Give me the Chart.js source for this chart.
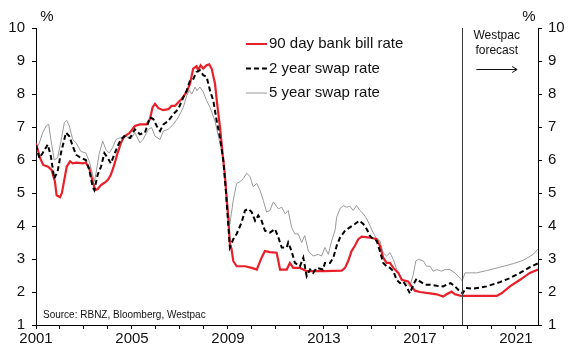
<!DOCTYPE html>
<html>
<head>
<meta charset="utf-8">
<script src="https://cdn.jsdelivr.net/npm/chart.js@4.4.1/dist/chart.umd.min.js"></script>
<style>
  html, body { margin: 0; padding: 0; background: #fff; }
  #wrap { width: 568px; height: 345px; position: relative; }
</style>
</head>
<body>
<div id="wrap"><canvas id="c" width="568" height="345"></canvas></div>
<script>
// ---- Data ----
const billDates = [2001.00,2001.17,2001.30,2001.50,2001.65,2001.79,2001.86,2002.00,2002.08,2002.28,2002.42,2002.53,2002.67,2002.94,2003.08,2003.22,2003.36,2003.47,2003.57,2003.71,2003.85,2003.99,2004.12,2004.26,2004.40,2004.54,2004.68,2004.89,2005.12,2005.33,2005.61,2005.75,2005.86,2005.96,2006.10,2006.30,2006.51,2006.65,2006.79,2006.93,2007.07,2007.28,2007.42,2007.55,2007.69,2007.76,2007.86,2007.97,2008.11,2008.22,2008.32,2008.46,2008.55,2008.67,2008.78,2008.87,2008.95,2009.01,2009.08,2009.15,2009.22,2009.36,2009.71,2009.99,2010.20,2010.40,2010.54,2010.75,2011.03,2011.17,2011.45,2011.58,2011.72,2012.00,2012.28,2013.00,2013.74,2013.88,2014.01,2014.15,2014.29,2014.43,2014.57,2014.92,2015.20,2015.33,2015.47,2015.61,2015.75,2015.89,2016.10,2016.24,2016.51,2016.65,2016.79,2017.00,2017.42,2017.70,2017.97,2018.11,2018.32,2018.46,2018.67,2018.80,2019.50,2020.20,2020.40,2020.75,2021.17,2021.58,2021.92];
const billRates = [6.5,6.06,5.85,5.8,5.7,5.34,4.93,4.87,5.0,5.8,5.96,5.9,5.92,5.9,5.92,5.75,5.34,5.09,5.12,5.24,5.31,5.39,5.55,5.85,6.21,6.52,6.72,6.81,7.03,7.08,7.08,7.24,7.6,7.7,7.57,7.51,7.54,7.64,7.64,7.75,7.85,8.06,8.31,8.77,8.84,8.72,8.87,8.77,8.87,8.9,8.77,8.31,7.7,6.98,6.16,5.55,4.78,4.27,3.45,3.3,2.94,2.78,2.78,2.73,2.68,3.04,3.24,3.21,3.19,2.68,2.68,2.88,2.73,2.73,2.63,2.63,2.65,2.73,2.94,3.24,3.4,3.6,3.68,3.65,3.6,3.4,3.04,2.88,2.88,2.73,2.58,2.37,2.32,2.17,2.04,2.0,1.96,1.93,1.86,1.93,2.01,1.93,1.89,1.88,1.88,1.88,1.96,2.17,2.37,2.58,2.68];

const swap2Dates = [2001.00,2001.14,2001.28,2001.49,2001.62,2001.76,2001.90,2002.04,2002.25,2002.39,2002.53,2002.67,2002.87,2003.08,2003.22,2003.36,2003.43,2003.57,2003.71,2003.85,2003.99,2004.12,2004.26,2004.40,2004.54,2004.68,2004.92,2005.12,2005.33,2005.54,2005.75,2005.89,2006.03,2006.17,2006.31,2006.51,2006.72,2006.93,2007.14,2007.28,2007.42,2007.56,2007.69,2007.83,2007.97,2008.11,2008.25,2008.39,2008.53,2008.67,2008.81,2008.92,2009.01,2009.08,2009.22,2009.36,2009.57,2009.71,2009.85,2009.99,2010.13,2010.26,2010.40,2010.54,2010.75,2010.96,2011.10,2011.24,2011.45,2011.51,2011.65,2011.79,2012.00,2012.14,2012.28,2012.42,2012.55,2012.69,2012.96,2013.04,2013.25,2013.39,2013.53,2013.67,2013.88,2014.08,2014.29,2014.47,2014.64,2014.78,2014.92,2015.05,2015.20,2015.33,2015.47,2015.61,2015.75,2015.89,2016.03,2016.17,2016.30,2016.44,2016.58,2016.72,2016.86,2017.00,2017.21,2017.42,2017.70,2017.97,2018.11,2018.28,2018.46,2018.67,2018.78,2018.92,2019.22,2019.78,2020.33,2020.75,2021.17,2021.58,2021.92];
const swap2Rates = [6.45,6.06,6.21,6.47,6.11,5.44,5.65,6.21,6.83,6.72,6.42,6.16,6.06,6.0,5.7,5.19,5.09,5.55,5.8,6.21,6.06,5.9,6.16,6.42,6.62,6.72,6.67,6.93,6.78,6.83,7.29,7.24,7.03,6.88,7.08,7.18,7.39,7.54,7.9,8.11,8.41,8.46,8.67,8.72,8.57,8.52,8.11,7.8,7.18,6.67,5.96,5.0,4.06,3.35,3.6,3.76,4.11,4.47,4.52,4.42,4.16,4.32,4.16,3.86,3.8,3.91,3.65,3.35,3.35,3.5,3.24,2.88,2.78,3.04,2.48,2.68,2.58,2.73,2.68,2.88,2.88,3.04,3.4,3.65,3.86,3.96,4.06,4.16,4.06,3.91,3.7,3.6,3.55,3.24,2.88,2.78,2.73,2.63,2.37,2.27,2.32,2.17,1.96,2.22,2.4,2.32,2.22,2.22,2.19,2.17,2.22,2.27,2.17,2.01,1.96,2.12,2.1,2.17,2.3,2.42,2.58,2.75,2.87];

const swap5Dates = [2001.00,2001.14,2001.28,2001.42,2001.53,2001.62,2001.76,2001.90,2002.04,2002.18,2002.28,2002.39,2002.53,2002.67,2002.87,2003.08,2003.22,2003.36,2003.43,2003.50,2003.64,2003.78,2003.92,2004.05,2004.19,2004.33,2004.47,2004.61,2004.75,2004.96,2005.12,2005.33,2005.46,2005.68,2005.82,2005.96,2006.17,2006.31,2006.51,2006.72,2006.93,2007.14,2007.28,2007.39,2007.49,2007.63,2007.71,2007.83,2007.97,2008.11,2008.25,2008.46,2008.60,2008.74,2008.88,2009.01,2009.08,2009.22,2009.36,2009.50,2009.64,2009.78,2009.92,2010.05,2010.20,2010.33,2010.47,2010.61,2010.75,2010.89,2011.10,2011.24,2011.38,2011.51,2011.65,2011.79,2011.93,2012.07,2012.20,2012.35,2012.55,2012.76,2012.90,2013.04,2013.18,2013.32,2013.46,2013.53,2013.67,2013.80,2013.95,2014.08,2014.22,2014.36,2014.50,2014.64,2014.78,2014.92,2015.05,2015.20,2015.33,2015.47,2015.61,2015.75,2015.89,2016.03,2016.17,2016.30,2016.44,2016.58,2016.72,2016.83,2016.93,2017.14,2017.28,2017.42,2017.55,2017.70,2017.90,2018.04,2018.25,2018.46,2018.67,2018.76,2018.88,2019.36,2019.78,2020.33,2020.89,2021.30,2021.72,2021.92];
const swap5Rates = [6.3,6.52,6.83,7.03,7.08,6.62,6.0,6.06,6.57,7.13,7.2,7.03,6.62,6.52,6.26,6.21,5.96,5.55,5.34,5.6,6.21,6.57,6.31,6.21,6.37,6.62,6.67,6.67,6.72,6.64,6.83,6.52,6.62,6.93,6.98,6.72,6.62,6.88,6.93,7.08,7.29,7.6,7.95,8.11,8.0,8.21,8.1,8.21,8.06,7.8,7.6,7.18,6.72,6.26,5.6,4.47,4.06,4.78,5.29,5.34,5.44,5.6,5.5,5.19,5.29,5.09,4.78,4.42,4.47,4.73,4.52,4.57,4.37,4.47,3.96,3.76,3.76,3.5,3.71,3.24,3.09,3.14,3.09,3.35,3.14,3.55,3.86,4.27,4.52,4.62,4.57,4.6,4.47,4.62,4.47,4.37,4.22,4.01,3.8,3.6,3.55,3.19,3.09,3.19,2.99,2.68,2.48,2.37,2.27,2.17,2.53,2.94,2.99,2.94,2.78,2.78,2.63,2.68,2.63,2.68,2.68,2.58,2.42,2.34,2.58,2.58,2.65,2.75,2.86,2.96,3.14,3.3];

const seriesNames = ['90 day bank bill rate', '2 year swap rate', '5 year swap rate'];
const yTicks = [1,2,3,4,5,6,7,8,9,10];
const xTickYears = [2001,2002,2003,2004,2005,2006,2007,2008,2009,2010,2011,2012,2013,2014,2015,2016,2017,2018,2019,2020,2021];
const xLabelYears = [2001,2005,2009,2013,2017,2021];
const forecastStart = 2018.75;
const xMin = 2001, xMax = 2021.92;

const pts = (d, v) => d.map((x, i) => ({x: x, y: v[i]}));

const RED = '#e8202a', BLACK = '#000000', GREY = '#9a9a9a';
const FONT = '"Liberation Sans", Arial, sans-serif';

const overlay = {
  id: 'overlay',
  afterDatasetsDraw(chart) {
    const ctx = chart.ctx;
    const xs = chart.scales.x;
    const area = chart.chartArea;
    ctx.save();
    // forecast divider
    const fx = Math.round(xs.getPixelForValue(forecastStart)) + 0.5;
    ctx.strokeStyle = '#3a3a3a';
    ctx.lineWidth = 1;
    ctx.beginPath();
    ctx.moveTo(fx, area.top);
    ctx.lineTo(fx, area.bottom);
    ctx.stroke();

    // forecast text and arrow
    ctx.fillStyle = '#111';
    ctx.font = '12px ' + FONT;
    ctx.textAlign = 'center';
    ctx.textBaseline = 'middle';
    const tx = xs.getPixelForValue(2020.2);
    ctx.fillText('Westpac', tx, 36);
    ctx.fillText('forecast', tx, 51);
    const ay = 69.5;
    const ax1 = xs.getPixelForValue(2019.35), ax2 = xs.getPixelForValue(2021.05);
    ctx.strokeStyle = '#111';
    ctx.beginPath();
    ctx.moveTo(ax1, ay); ctx.lineTo(ax2, ay);
    ctx.moveTo(ax2 - 5, ay - 3); ctx.lineTo(ax2, ay); ctx.lineTo(ax2 - 5, ay + 3);
    ctx.stroke();

    // % unit labels
    ctx.font = '15px ' + FONT;
    ctx.fillStyle = '#111';
    ctx.textAlign = 'center';
    ctx.fillText('%', 47, 17);
    ctx.fillText('%', 529, 17);

    // legend
    const lx1 = 246, lx2 = 267, textX = 269;
    const rows = [44, 68.5, 93];
    const styles = [
      {c: RED, w: 2, dash: []},
      {c: BLACK, w: 2, dash: [5, 3]},
      {c: GREY, w: 1, dash: []}
    ];
    ctx.textAlign = 'left';
    rows.forEach((y, i) => {
      ctx.strokeStyle = styles[i].c;
      ctx.lineWidth = styles[i].w;
      ctx.setLineDash(styles[i].dash);
      ctx.beginPath();
      ctx.moveTo(lx1, y); ctx.lineTo(lx2, y);
      ctx.stroke();
      ctx.setLineDash([]);
      ctx.fillStyle = '#111';
      ctx.fillText(seriesNames[i], textX, y);
    });

    // source
    ctx.font = '10px ' + FONT;
    ctx.textAlign = 'left';
    ctx.fillText('Source: RBNZ, Bloomberg, Westpac', 43, 315);
    ctx.restore();
  }
};

const yAxisCommon = {
  type: 'linear', min: 1, max: 10,
  afterBuildTicks: (axis) => { axis.ticks = yTicks.map(v => ({value: v})); },
  grid: { drawOnChartArea: false, drawTicks: true, tickLength: 4, color: '#000', lineWidth: 1 },
  border: { display: true, color: '#000', width: 1 },
  ticks: { color: '#111', font: { family: FONT, size: 15 }, autoSkip: false }
};

new Chart(document.getElementById('c'), {
  type: 'line',
  data: {
    datasets: [
      { label: seriesNames[2], data: pts(swap5Dates, swap5Rates), borderColor: GREY, borderWidth: 1, pointRadius: 0, tension: 0, order: 3 },
      { label: seriesNames[0], data: pts(billDates, billRates), borderColor: RED, borderWidth: 2.2, pointRadius: 0, tension: 0, order: 2 },
      { label: seriesNames[1], data: pts(swap2Dates, swap2Rates), borderColor: BLACK, borderWidth: 2, borderDash: [5, 3], pointRadius: 0, tension: 0, order: 1 }
    ]
  },
  options: {
    responsive: false,
    animation: false,
    devicePixelRatio: 1,
    layout: { padding: { top: 28, left: 0, right: 0, bottom: 0 } },
    plugins: { legend: { display: false }, tooltip: { enabled: false } },
    scales: {
      x: {
        type: 'linear', min: xMin, max: xMax,
        afterBuildTicks: (axis) => { axis.ticks = xTickYears.map(v => ({value: v})); },
        afterFit: (axis) => { axis.height = 20; },
        grid: { drawOnChartArea: false, drawTicks: true, tickLength: 4, color: '#000' },
        border: { display: true, color: '#000', width: 1 },
        ticks: {
          color: '#111', font: { family: FONT, size: 15 }, autoSkip: false, maxRotation: 0, padding: 1,
          callback: (v) => xLabelYears.includes(v) ? String(v) : ''
        }
      },
      y: Object.assign({}, yAxisCommon, {
        position: 'left',
        afterFit: (axis) => { axis.width = 36; },
        ticks: Object.assign({}, yAxisCommon.ticks, { padding: 7 })
      }),
      y2: Object.assign({}, yAxisCommon, {
        position: 'right',
        afterFit: (axis) => { axis.width = 30; },
        ticks: Object.assign({}, yAxisCommon.ticks, { padding: 6 })
      })
    }
  },
  plugins: [overlay]
});
</script>
</body>
</html>
